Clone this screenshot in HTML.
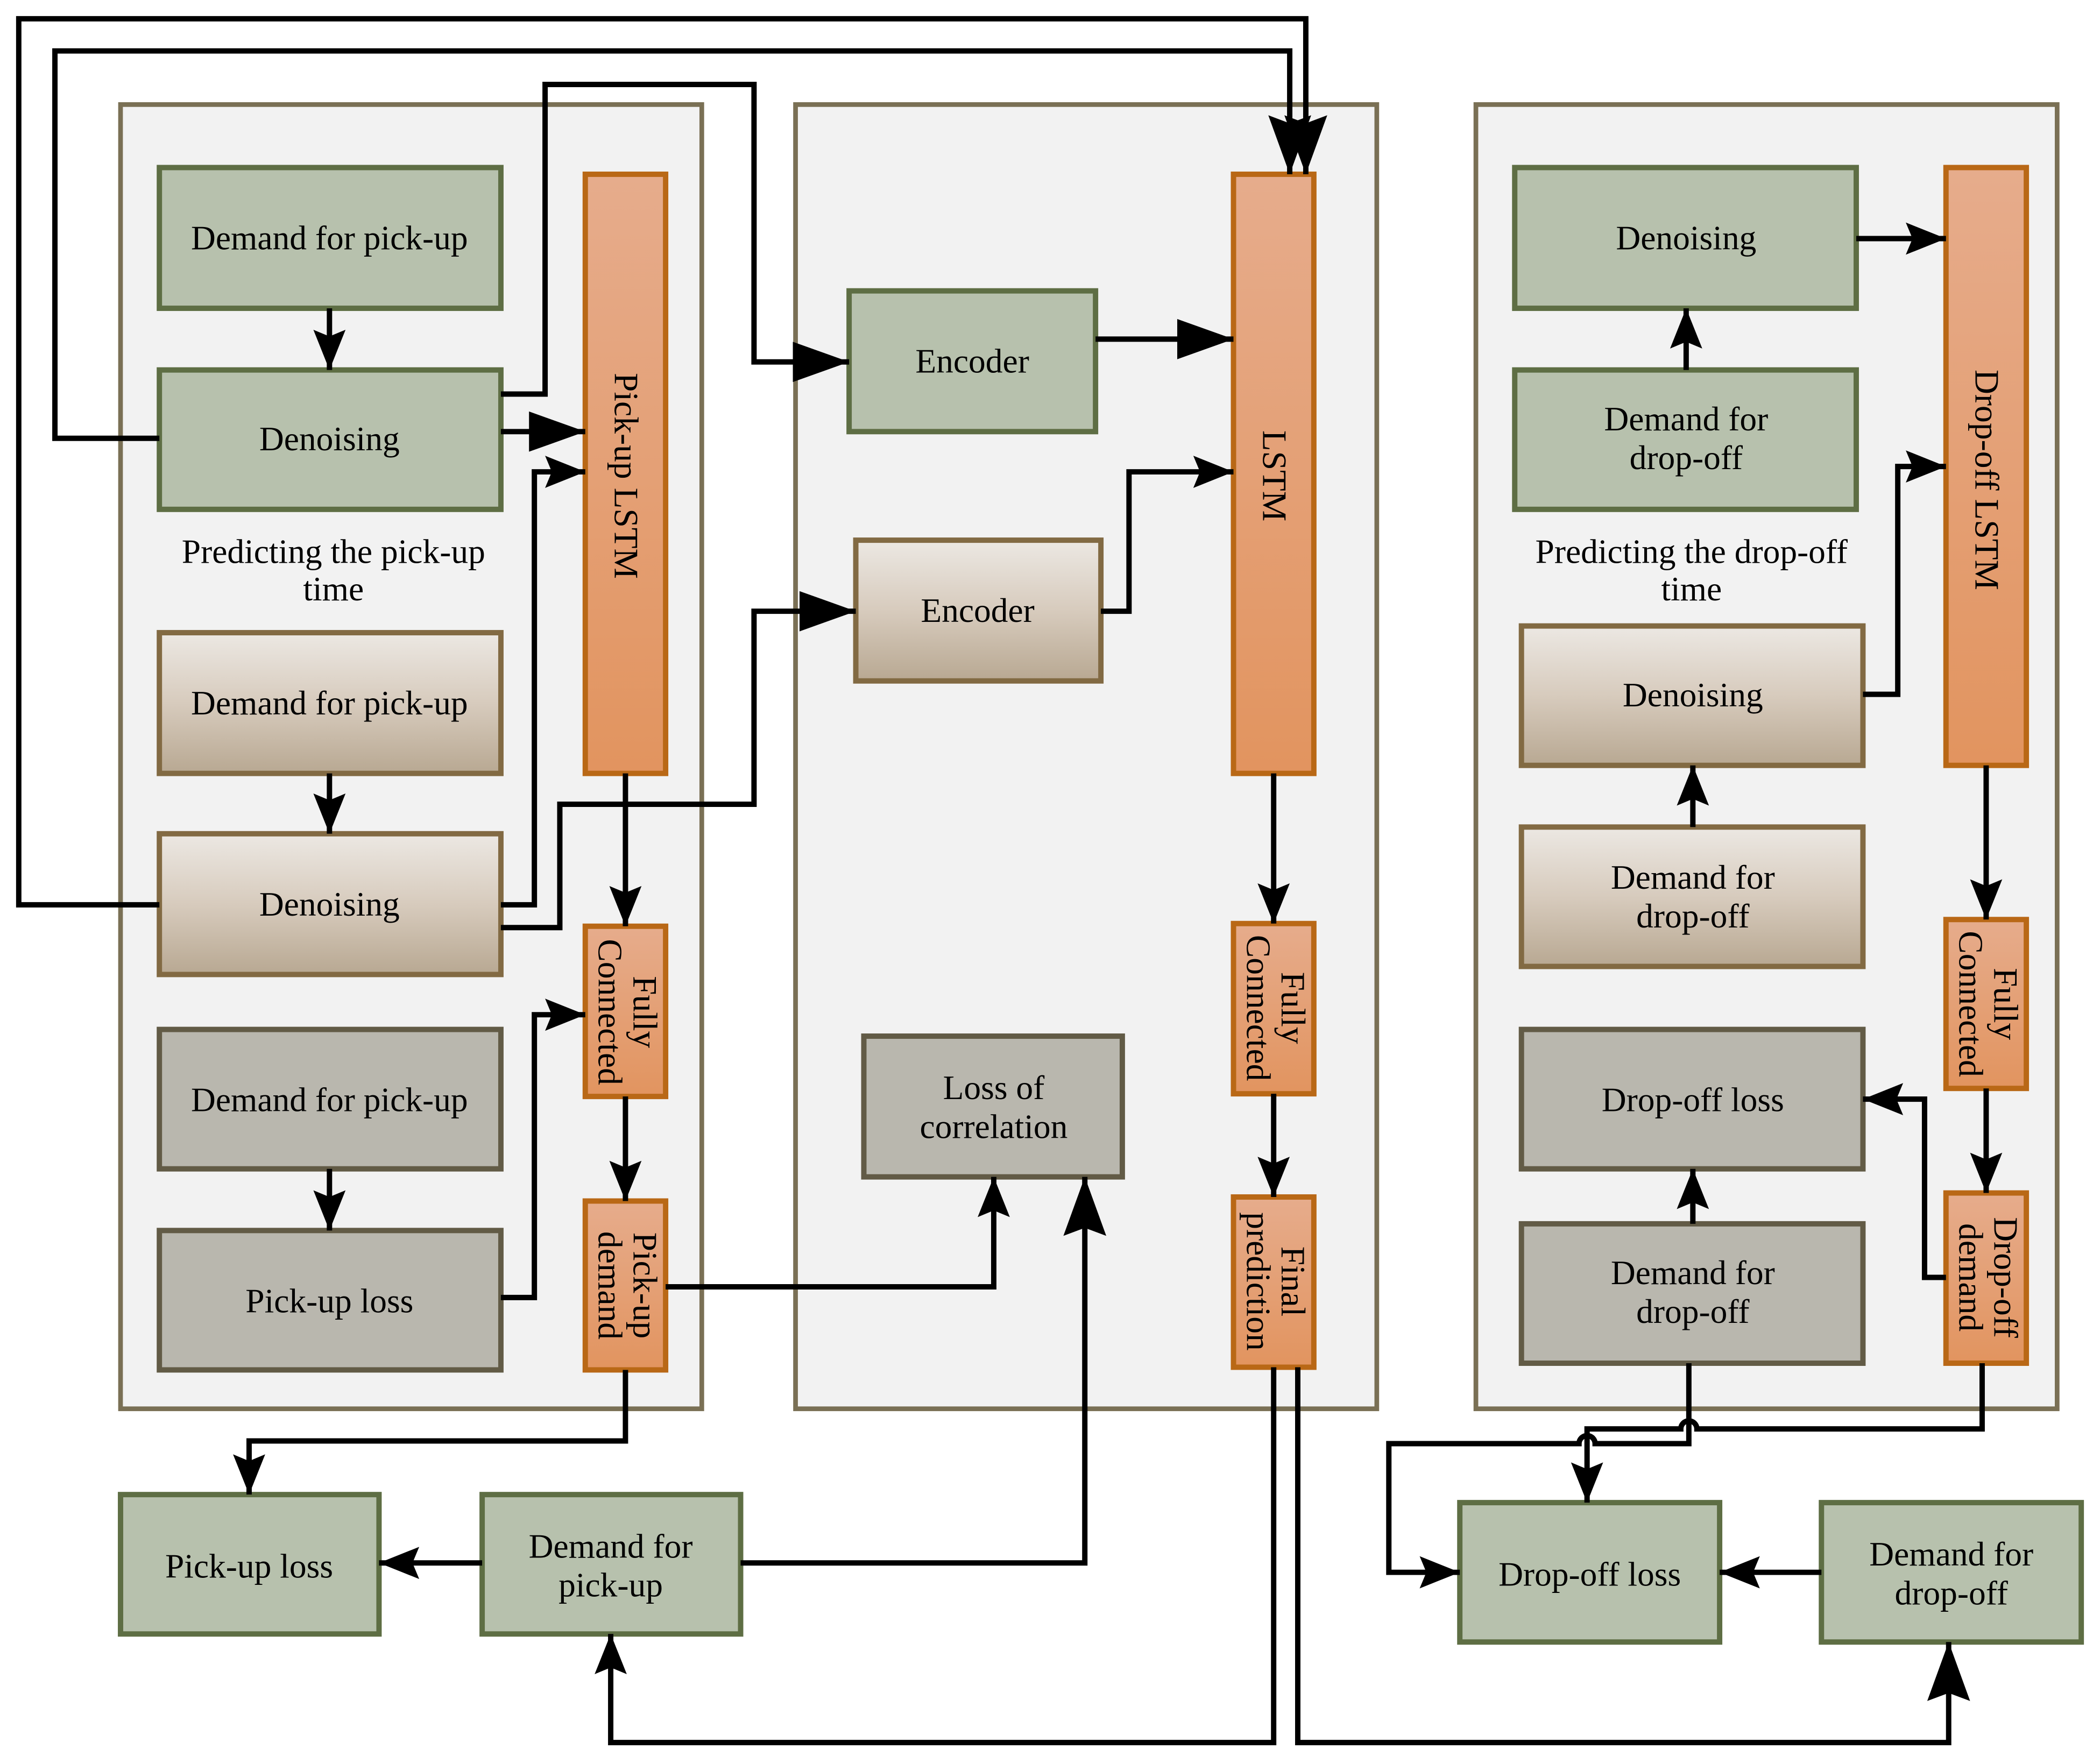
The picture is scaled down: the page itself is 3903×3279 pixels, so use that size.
<!DOCTYPE html>
<html><head><meta charset="utf-8"><style>
html,body{margin:0;padding:0;background:#fff;}
svg{display:block;}
text{font-family:"Liberation Serif",serif;font-size:25.5px;fill:#000;}
</style></head><body>
<svg width="3903" height="3279" viewBox="0 0 1568 1316" preserveAspectRatio="none" xmlns="http://www.w3.org/2000/svg">
<defs>
<linearGradient id="br" x1="0" y1="0" x2="0" y2="1"><stop offset="0" stop-color="#ece8e3"/><stop offset="0.5" stop-color="#d7cbbd"/><stop offset="1" stop-color="#b8a892"/></linearGradient>
<linearGradient id="or" x1="0" y1="0" x2="0" y2="1"><stop offset="0" stop-color="#e6ac8c"/><stop offset="1" stop-color="#e2945f"/></linearGradient>
<marker id="a" markerUnits="userSpaceOnUse" markerWidth="40" markerHeight="40" viewBox="-2 -16 40 32" refX="30" refY="0" orient="auto">
<path d="M0,-12 L30,0 L0,12 L5,0 Z" fill="#000"/></marker>
<marker id="c" markerUnits="userSpaceOnUse" markerWidth="50" markerHeight="50" viewBox="-2 -20 50 40" refX="42" refY="0" orient="auto">
<path d="M0,-15 L42,0 L0,15 Z" fill="#000"/></marker>
<marker id="b" markerUnits="userSpaceOnUse" markerWidth="50" markerHeight="50" viewBox="-2 -20 50 40" refX="44" refY="0" orient="auto">
<path d="M0,-16 L44,0 L0,16 L6,0 Z" fill="#000"/></marker>
</defs>
<g stroke="#7a7055" stroke-width="3.5" fill="#f2f2f2">
<rect x="90" y="78" width="434" height="973"/>
<rect x="594" y="78" width="434" height="973"/>
<rect x="1102" y="78" width="434" height="973"/>
</g>
<g stroke="#5e6e44" stroke-width="4" fill="#b7c1ad">
<rect x="119" y="125" width="255" height="105"/>
<rect x="119" y="276" width="255" height="104"/>
<rect x="634" y="217" width="184" height="105"/>
<rect x="1131" y="125" width="255" height="105"/>
<rect x="1131" y="276" width="255" height="104"/>
<rect x="90" y="1115" width="193" height="104"/>
<rect x="360" y="1115" width="193" height="104"/>
<rect x="1090" y="1121" width="194" height="104"/>
<rect x="1360" y="1121" width="194" height="104"/>
</g>
<g stroke="#826a43" stroke-width="4" fill="url(#br)">
<rect x="119" y="472" width="255" height="105"/>
<rect x="119" y="622" width="255" height="105"/>
<rect x="639" y="403" width="183" height="105"/>
<rect x="1136" y="467" width="255" height="104"/>
<rect x="1136" y="617" width="255" height="104"/>
</g>
<g stroke="#625b46" stroke-width="4" fill="#b9b7ae">
<rect x="119" y="768" width="255" height="104"/>
<rect x="119" y="918" width="255" height="104"/>
<rect x="645" y="773" width="193" height="105"/>
<rect x="1136" y="768" width="255" height="104"/>
<rect x="1136" y="913" width="255" height="104"/>
</g>
<g stroke="#b96816" stroke-width="4" fill="url(#or)">
<rect x="437" y="130" width="60" height="447"/>
<rect x="437" y="691" width="60" height="127"/>
<rect x="437" y="896" width="60" height="126"/>
<rect x="921" y="130" width="60" height="447"/>
<rect x="921" y="689" width="60" height="127"/>
<rect x="921" y="893" width="60" height="127"/>
<rect x="1453" y="125" width="60" height="446"/>
<rect x="1453" y="686" width="60" height="126"/>
<rect x="1453" y="890" width="60" height="127"/>
</g>
<g text-anchor="middle">
<text x="246" y="186">Demand for pick-up</text>
<text x="246" y="336">Denoising</text>
<text x="249" y="420">Predicting the pick-up</text>
<text x="249" y="448">time</text>
<text x="246" y="533">Demand for pick-up</text>
<text x="246" y="683">Denoising</text>
<text x="246" y="829">Demand for pick-up</text>
<text x="246" y="979">Pick-up loss</text>
<text x="726" y="278">Encoder</text>
<text x="730" y="464">Encoder</text>
<text x="742" y="820">Loss of</text>
<text x="742" y="849">correlation</text>
<text x="1259" y="186">Denoising</text>
<text x="1259" y="321">Demand for</text>
<text x="1259" y="350">drop-off</text>
<text x="1263" y="420">Predicting the drop-off</text>
<text x="1263" y="448">time</text>
<text x="1264" y="527">Denoising</text>
<text x="1264" y="663">Demand for</text>
<text x="1264" y="692">drop-off</text>
<text x="1264" y="829">Drop-off loss</text>
<text x="1264" y="958">Demand for</text>
<text x="1264" y="987">drop-off</text>
<text x="186" y="1177">Pick-up loss</text>
<text x="456" y="1162">Demand for</text>
<text x="456" y="1191">pick-up</text>
<text x="1187" y="1183">Drop-off loss</text>
<text x="1457" y="1168">Demand for</text>
<text x="1457" y="1197">drop-off</text>
<text transform="translate(467,355) rotate(90)" y="8">Pick-up LSTM</text>
<text transform="translate(951,355) rotate(90)" y="8">LSTM</text>
<text transform="translate(1483,358) rotate(90)" y="8">Drop-off LSTM</text>
<text transform="translate(467,755) rotate(90)" y="-6">Fully</text>
<text transform="translate(467,755) rotate(90)" y="20">Connected</text>
<text transform="translate(467,959) rotate(90)" y="-6">Pick-up</text>
<text transform="translate(467,959) rotate(90)" y="20">demand</text>
<text transform="translate(951,752) rotate(90)" y="-6">Fully</text>
<text transform="translate(951,752) rotate(90)" y="20">Connected</text>
<text transform="translate(951,956) rotate(90)" y="-6">Final</text>
<text transform="translate(951,956) rotate(90)" y="20">prediction</text>
<text transform="translate(1483,749) rotate(90)" y="-6">Fully</text>
<text transform="translate(1483,749) rotate(90)" y="20">Connected</text>
<text transform="translate(1483,953) rotate(90)" y="-6">Drop-off</text>
<text transform="translate(1483,953) rotate(90)" y="20">demand</text>
</g>
<g stroke="#000" stroke-width="4" fill="none" marker-end="url(#a)">
<path d="M246,230 V276"/>
<path d="M374,322 H437" marker-end="url(#c)"/>
<path d="M374,294 H407 V63 H563 V270 H634" marker-end="url(#c)"/>
<path d="M119,327 H41 V38 H963 V130" marker-end="url(#b)"/>
<path d="M119,675 H14 V14 H975 V130" marker-end="url(#b)"/>
<path d="M246,577 V622"/>
<path d="M374,675 H399 V352 H437"/>
<path d="M374,692 H418 V600 H563 V456 H639" marker-end="url(#c)"/>
<path d="M467,577 V691"/>
<path d="M467,818 V896"/>
<path d="M246,872 V918"/>
<path d="M374,968 H399 V757 H437"/>
<path d="M497,960 H742 V878"/>
<path d="M467,1022 V1075 H186 V1115"/>
<path d="M360,1166 H283"/>
<path d="M553,1166 H810 V878" marker-end="url(#b)"/>
<path d="M818,253 H921" marker-end="url(#c)"/>
<path d="M822,456 H843 V352 H921"/>
<path d="M951,577 V689"/>
<path d="M951,816 V893"/>
<path d="M951,1020 V1300 H456 V1219"/>
<path d="M969,1020 V1300 H1455 V1225" marker-end="url(#b)"/>
<path d="M1386,178 H1453"/>
<path d="M1259,276 V230"/>
<path d="M1391,518 H1417 V348 H1453"/>
<path d="M1264,617 V571"/>
<path d="M1483,571 V686"/>
<path d="M1483,812 V890"/>
<path d="M1453,953 H1437 V820 H1391"/>
<path d="M1264,913 V872"/>
<path d="M1261,1017 V1077 H1191 A6,6 0 0 0 1179,1077 H1037 V1173 H1090"/>
<path d="M1480,1017 V1066 H1267 A6,6 0 0 0 1255,1066 H1185 V1121"/>
<path d="M1360,1173 H1284"/>
</g>
</svg>
</body></html>
